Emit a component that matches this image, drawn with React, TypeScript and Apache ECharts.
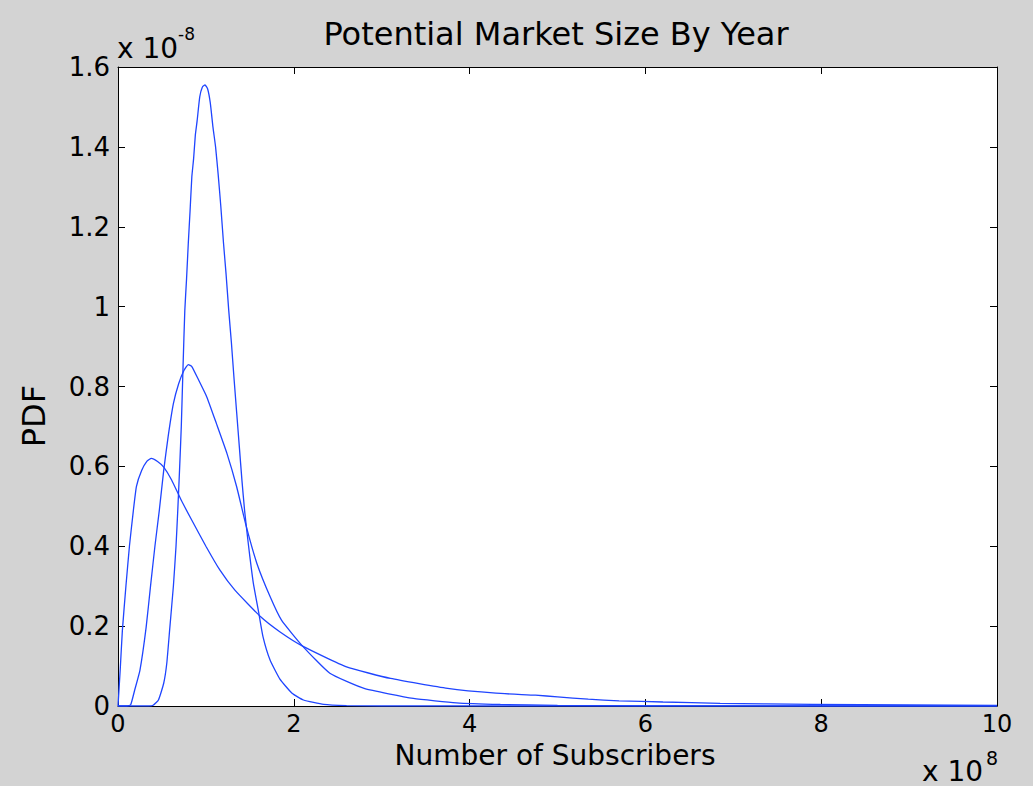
import React, { useEffect, useRef } from "react";
import * as echarts from "echarts";

// Axis scales (x in units of 1e8 subscribers, y in units of 1e-8)
const xTickValues = [0, 2, 4, 6, 8, 10];
const yTickValues = [0, 0.2, 0.4, 0.6, 0.8, 1, 1.2, 1.4, 1.6];

// Narrow, tall density
const sharpX = [0, 0.35, 0.4, 0.46, 0.52, 0.555, 0.59, 0.63, 0.66, 0.68, 0.7, 0.72, 0.74, 0.76, 0.78, 0.8, 0.82, 0.84, 0.86, 0.88, 0.9, 0.93, 0.96, 0.99, 1.02, 1.05, 1.08, 1.11, 1.14, 1.17, 1.2, 1.23, 1.26, 1.29, 1.32, 1.35, 1.38, 1.41, 1.44, 1.47, 1.5, 1.54, 1.6, 1.65, 1.73, 1.84, 1.98, 2.11, 2.34, 2.6, 3.0, 10];
const sharpY = [0, 0, 0.002, 0.015, 0.057, 0.107, 0.197, 0.3, 0.4, 0.49, 0.59, 0.7, 0.85, 0.99, 1.07, 1.16, 1.24, 1.325, 1.37, 1.43, 1.465, 1.525, 1.55, 1.555, 1.545, 1.51, 1.45, 1.4, 1.33, 1.25, 1.16, 1.08, 0.99, 0.91, 0.82, 0.735, 0.65, 0.565, 0.49, 0.43, 0.374, 0.307, 0.235, 0.173, 0.115, 0.068, 0.032, 0.015, 0.004, 0.001, 0, 0];

// Middle density
const midX = [0, 0.1, 0.144, 0.19, 0.25, 0.32, 0.37, 0.42, 0.47, 0.52, 0.57, 0.63, 0.69, 0.75, 0.8, 0.84, 0.92, 1.01, 1.12, 1.24, 1.35, 1.46, 1.58, 1.73, 1.86, 2.1, 2.41, 2.8, 3.36, 3.85, 4.35, 5.0, 6.0, 7.0, 10];
const midY = [0, 0, 0.003, 0.04, 0.09, 0.197, 0.3, 0.4, 0.49, 0.59, 0.674, 0.757, 0.807, 0.84, 0.855, 0.85, 0.815, 0.774, 0.707, 0.632, 0.549, 0.449, 0.357, 0.274, 0.215, 0.15, 0.082, 0.044, 0.019, 0.008, 0.004, 0.0015, 0.0004, 0.0001, 0];

// Broad, long-tailed density
const wideX = [0, 0.025, 0.05, 0.09, 0.13, 0.175, 0.21, 0.27, 0.33, 0.38, 0.45, 0.52, 0.61, 0.72, 0.84, 1.0, 1.16, 1.33, 1.62, 1.84, 2.1, 2.6, 3.1, 3.75, 4.3, 4.75, 5.0, 5.35, 5.7, 6.2, 6.85, 7.9, 9.0, 10];
const wideY = [0, 0.09, 0.19, 0.3, 0.4, 0.49, 0.55, 0.59, 0.613, 0.62, 0.612, 0.598, 0.566, 0.515, 0.465, 0.4, 0.34, 0.29, 0.224, 0.186, 0.15, 0.098, 0.069, 0.044, 0.032, 0.027, 0.023, 0.017, 0.013, 0.01, 0.0067, 0.004, 0.0025, 0.0015];

const FONT = "DejaVu Sans";
const LINE_COLOR = "#1f45ff";

function zipPoints(xs: number[], ys: number[]): number[][] {
  return xs.map((x, i) => [x, ys[i]]);
}

function boxAxis(
  position: string,
  showLabels: boolean,
  ticks: number[],
  fontSize: number,
  margin: number
) {
  const min = ticks[0];
  const max = ticks[ticks.length - 1];
  return {
    type: "value",
    position,
    min,
    max,
    interval: ticks[1] - ticks[0],
    axisLine: { show: true, onZero: false, lineStyle: { color: "#000", width: 1 } },
    axisTick: { show: true, inside: true, length: 7, lineStyle: { color: "#000", width: 1 } },
    axisLabel: {
      show: showLabels,
      fontFamily: FONT,
      fontSize,
      lineHeight: 24,
      color: "#000",
      margin,
      formatter: (v: number) => String(Number(v.toFixed(1))),
    },
    splitLine: { show: false },
  };
}

export default function App() {
  const ref = useRef<HTMLDivElement>(null);

  useEffect(() => {
    if (!ref.current) return;
    const chart = echarts.init(ref.current, null, { renderer: "svg" });

    const curves = [
      { name: "sharp", data: zipPoints(sharpX, sharpY) },
      { name: "mid", data: zipPoints(midX, midY) },
      { name: "wide", data: zipPoints(wideX, wideY) },
    ];

    chart.setOption({
      animation: false,
      backgroundColor: "#d3d3d3",
      grid: {
        left: 118,
        top: 67,
        right: 36,
        bottom: 80,
        show: true,
        backgroundColor: "#ffffff",
        borderWidth: 0,
      },
      xAxis: [
        boxAxis("bottom", true, xTickValues, 24, 6),
        boxAxis("top", false, xTickValues, 24, 6),
      ],
      yAxis: [
        boxAxis("left", true, yTickValues, 26, 8),
        boxAxis("right", false, yTickValues, 26, 8),
      ],
      series: curves.map((c) => ({
        type: "line",
        name: c.name,
        xAxisIndex: 0,
        yAxisIndex: 0,
        data: c.data,
        showSymbol: false,
        symbol: "none",
        smooth: 0.15,
        lineStyle: { color: LINE_COLOR, width: 1.3 },
        z: 3,
      })),
      graphic: [
        {
          type: "text",
          x: 556,
          y: 34,
          style: {
            text: "Potential Market Size By Year",
            font: `32px "${FONT}"`,
            fill: "#000",
            textAlign: "center",
            textVerticalAlign: "middle",
          },
        },
        {
          type: "text",
          x: 555,
          y: 755,
          style: {
            text: "Number of Subscribers",
            font: `28px "${FONT}"`,
            fill: "#000",
            textAlign: "center",
            textVerticalAlign: "middle",
          },
        },
        {
          type: "text",
          x: 34,
          y: 416,
          rotation: Math.PI / 2,
          style: {
            text: "PDF",
            font: `32px "${FONT}"`,
            fill: "#000",
            textAlign: "center",
            textVerticalAlign: "middle",
          },
        },
        {
          type: "text",
          x: 117,
          y: 48,
          style: {
            text: "x 10",
            font: `28px "${FONT}"`,
            fill: "#000",
            textAlign: "left",
            textVerticalAlign: "middle",
          },
        },
        {
          type: "text",
          x: 178,
          y: 34,
          style: {
            text: "-8",
            font: `17px "${FONT}"`,
            fill: "#000",
            textAlign: "left",
            textVerticalAlign: "middle",
          },
        },
        {
          type: "text",
          x: 922,
          y: 771,
          style: {
            text: "x 10",
            font: `28px "${FONT}"`,
            fill: "#000",
            textAlign: "left",
            textVerticalAlign: "middle",
          },
        },
        {
          type: "text",
          x: 986,
          y: 758,
          style: {
            text: "8",
            font: `19px "${FONT}"`,
            fill: "#000",
            textAlign: "left",
            textVerticalAlign: "middle",
          },
        },
      ],
    });

    return () => {
      chart.dispose();
    };
  }, []);

  return (
    <div
      ref={ref}
      style={{ position: "fixed", left: 0, top: 0, width: 1033, height: 786 }}
    />
  );
}
